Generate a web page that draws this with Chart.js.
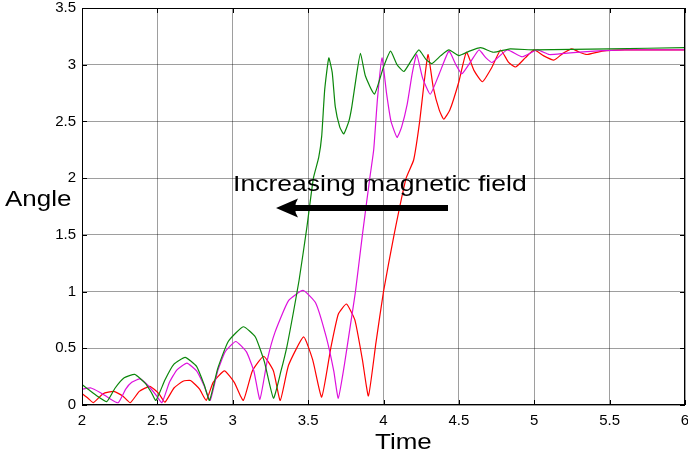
<!DOCTYPE html>
<html>
<head>
<meta charset="utf-8">
<script src="https://cdn.jsdelivr.net/npm/chart.js@4/dist/chart.umd.min.js"></script>
<style>
  body { margin: 0; background: #fff; }
  #wrap { position: relative; width: 688px; height: 458px; }
  .lbl { position: absolute; font-family: "Liberation Sans", Arial, sans-serif; line-height: 1; white-space: nowrap; color: #000; transform-origin: 0 0; transform: scaleX(1.18); }
</style>
</head>
<body>
<div id="wrap">
  <canvas id="chart" width="688" height="458"></canvas>
  <div class="lbl" style="left:5px; top:188px; font-size:22px;">Angle</div>
  <div class="lbl" style="left:375px; top:431px; font-size:22px;">Time</div>
  <div class="lbl" style="left:233px; top:173px; font-size:22.5px;">Increasing magnetic field</div>
</div>
<script>
// axis ranges / ticks
const xTicks = [2, 2.5, 3, 3.5, 4, 4.5, 5, 5.5, 6];
const yTicks = [0, 0.5, 1, 1.5, 2, 2.5, 3, 3.5];

// strongest field (green)
const timeGreen = [2.00, 2.05, 2.10, 2.164, 2.22, 2.28, 2.35, 2.42, 2.46, 2.49, 2.55, 2.61, 2.684, 2.76, 2.81, 2.846,
  2.90, 2.97, 3.07, 3.15, 3.21, 3.27, 3.32, 3.36, 3.40, 3.44, 3.49, 3.535, 3.57, 3.59, 3.61, 3.637, 3.66, 3.68,
  3.71, 3.736, 3.77, 3.79, 3.82, 3.847, 3.88, 3.94, 4.00, 4.047, 4.09, 4.135, 4.19, 4.235, 4.28, 4.32, 4.38,
  4.434, 4.50, 4.57, 4.645, 4.73, 4.84, 5.0, 5.5, 6.0];
const angleGreen = [0.18, 0.13, 0.08, 0.03, 0.15, 0.24, 0.27, 0.19, 0.11, 0.04, 0.22, 0.36, 0.42, 0.34, 0.18, 0.04,
  0.32, 0.56, 0.69, 0.60, 0.38, 0.06, 0.30, 0.52, 0.80, 1.10, 1.55, 2.00, 2.18, 2.37, 2.78, 3.06, 2.93, 2.63,
  2.45, 2.39, 2.50, 2.63, 2.90, 3.10, 2.90, 2.74, 2.98, 3.12, 3.00, 2.94, 3.05, 3.13, 3.05, 3.01, 3.08,
  3.13, 3.08, 3.12, 3.15, 3.11, 3.14, 3.13, 3.14, 3.15];

// medium field (magenta)
const timeMagenta = [2.00, 2.06, 2.12, 2.18, 2.24, 2.29, 2.33, 2.385, 2.44, 2.49, 2.53, 2.58, 2.63, 2.696, 2.76, 2.81,
  2.85, 2.90, 2.95, 3.02, 3.09, 3.14, 3.18, 3.23, 3.28, 3.37, 3.466, 3.55, 3.62, 3.67, 3.70, 3.74, 3.78, 3.814,
  3.86, 3.909, 3.935, 3.96, 3.99, 4.02, 4.05, 4.09, 4.12, 4.157, 4.19, 4.22, 4.26, 4.31, 4.37, 4.434, 4.48,
  4.52, 4.58, 4.633, 4.68, 4.72, 4.82, 4.92, 5.02, 5.10, 5.2, 5.4, 5.6, 6.0];
const angleMagenta = [0.14, 0.15, 0.11, 0.06, 0.02, 0.14, 0.20, 0.23, 0.17, 0.09, 0.02, 0.20, 0.31, 0.37, 0.30, 0.17,
  0.04, 0.30, 0.47, 0.56, 0.47, 0.30, 0.05, 0.40, 0.64, 0.92, 1.01, 0.90, 0.60, 0.30, 0.06, 0.35, 0.70, 1.00,
  1.50, 2.00, 2.25, 2.70, 3.06, 2.75, 2.50, 2.36, 2.45, 2.65, 2.92, 3.09, 2.88, 2.74, 2.92, 3.12, 3.00,
  2.92, 3.03, 3.13, 3.06, 3.02, 3.13, 3.07, 3.13, 3.09, 3.10, 3.12, 3.13, 3.13];

// weakest field (red)
const timeRed = [2.00, 2.04, 2.075, 2.14, 2.21, 2.27, 2.32, 2.38, 2.45, 2.51, 2.55, 2.61, 2.67, 2.72, 2.78, 2.824,
  2.87, 2.945, 3.01, 3.07, 3.13, 3.205, 3.27, 3.315, 3.37, 3.47, 3.53, 3.59, 3.65, 3.70, 3.754, 3.81, 3.86,
  3.90, 3.95, 4.00, 4.07, 4.15, 4.20, 4.24, 4.27, 4.296, 4.33, 4.37, 4.40, 4.44, 4.50, 4.55, 4.60, 4.656,
  4.72, 4.777, 4.83, 4.877, 4.94, 5.00, 5.06, 5.13, 5.19, 5.25, 5.30, 5.35, 5.45, 5.6, 6.0];
const angleRed = [0.10, 0.06, 0.02, 0.10, 0.12, 0.08, 0.02, 0.12, 0.165, 0.10, 0.025, 0.15, 0.21, 0.216, 0.14, 0.04,
  0.20, 0.30, 0.20, 0.04, 0.30, 0.43, 0.30, 0.04, 0.35, 0.60, 0.40, 0.07, 0.50, 0.80, 0.89, 0.75, 0.40,
  0.08, 0.55, 1.00, 1.50, 2.00, 2.16, 2.50, 2.85, 3.09, 2.80, 2.60, 2.52, 2.60, 2.85, 3.11, 2.95, 2.85,
  2.98, 3.13, 3.02, 2.98, 3.06, 3.13, 3.08, 3.04, 3.10, 3.14, 3.11, 3.09, 3.12, 3.13, 3.13];

const toPoints = (xs, ys) => xs.map((x, i) => ({ x: x, y: ys[i] }));

// plot frame + arrow
const framePlugin = {
    id: 'frame',
    afterDraw(chart) {
        const { ctx, chartArea: a, scales } = chart;
        ctx.save();
        ctx.strokeStyle = '#000';
        ctx.lineWidth = 1;
        ctx.strokeRect(a.left + 0.5, a.top + 0.5, a.right - a.left - 1, a.bottom - a.top - 1);

        // small inward tick marks
        ctx.beginPath();
        xTicks.forEach(v => {
            const px = Math.round(scales.x.getPixelForValue(v)) + 0.5;
            ctx.moveTo(px, a.bottom); ctx.lineTo(px, a.bottom - 5);
            ctx.moveTo(px, a.top); ctx.lineTo(px, a.top + 5);
        });
        yTicks.forEach(v => {
            const py = Math.round(scales.y.getPixelForValue(v)) + 0.5;
            ctx.moveTo(a.left, py); ctx.lineTo(a.left + 5, py);
            ctx.moveTo(a.right, py); ctx.lineTo(a.right - 5, py);
        });
        ctx.stroke();

        // arrow
        const y = 208;
        ctx.fillStyle = '#000';
        ctx.fillRect(294, y - 3, 154, 6);
        ctx.beginPath();
        ctx.moveTo(276, y);
        ctx.lineTo(298, y - 9.5);
        ctx.quadraticCurveTo(292, y, 298, y + 9.5);
        ctx.closePath();
        ctx.fill();
        ctx.restore();
    }
};

const lineStyle = color => ({
    borderColor: color,
    backgroundColor: color,
    borderWidth: 1.2,
    pointRadius: 0,
    showLine: true,
    tension: 0.15,
    fill: false
});

const tickFont = { family: '"Liberation Sans", Arial, sans-serif', size: 15 };

new Chart(document.getElementById('chart'), {
    type: 'scatter',
    data: {
        datasets: [
            { label: 'green', data: toPoints(timeGreen, angleGreen), ...lineStyle('#0b870b') },
            { label: 'magenta', data: toPoints(timeMagenta, angleMagenta), ...lineStyle('#dd10dd') },
            { label: 'red', data: toPoints(timeRed, angleRed), ...lineStyle('#ff0000') }
        ]
    },
    options: {
        responsive: false,
        animation: false,
        layout: { padding: { top: 8, right: 3, left: 0, bottom: 0 } },
        plugins: {
            legend: { display: false },
            tooltip: { enabled: false }
        },
        scales: {
            x: {
                type: 'linear',
                min: 2,
                max: 6,
                afterFit: s => { s.height = 53; s.paddingLeft = 0; s.paddingRight = 0; },
                afterBuildTicks: s => { s.ticks = xTicks.map(v => ({ value: v })); },
                grid: { color: 'rgba(0,0,0,0.38)', drawTicks: false },
                border: { display: false },
                ticks: {
                    padding: 7,
                    color: '#000',
                    maxRotation: 0,
                    autoSkip: false,
                    font: tickFont,
                    callback: v => String(v)
                }
            },
            y: {
                type: 'linear',
                min: 0,
                max: 3.5,
                afterFit: s => { s.width = 82; s.paddingTop = 0; s.paddingBottom = 0; },
                afterBuildTicks: s => { s.ticks = yTicks.map(v => ({ value: v })); },
                grid: { color: 'rgba(0,0,0,0.38)', drawTicks: false },
                border: { display: false },
                ticks: {
                    padding: 6,
                    color: '#000',
                    autoSkip: false,
                    font: tickFont,
                    callback: v => String(v)
                }
            }
        }
    },
    plugins: [framePlugin]
});
</script>
</body>
</html>
